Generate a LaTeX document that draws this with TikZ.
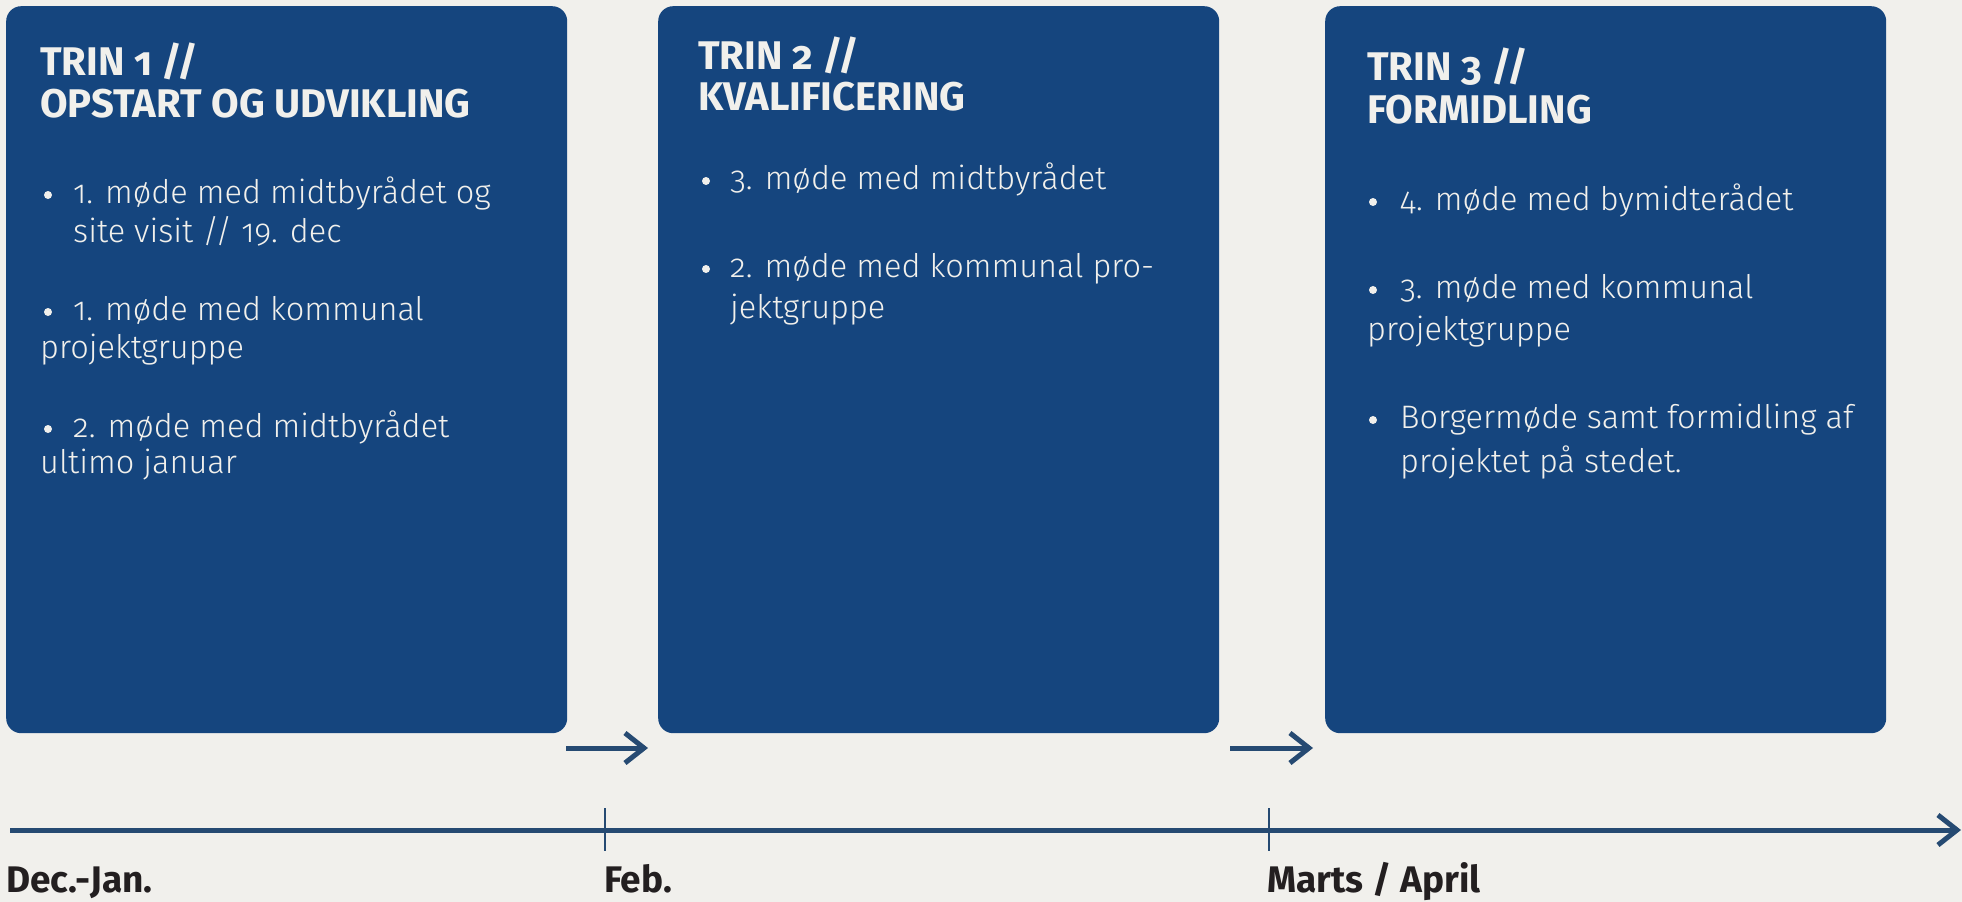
\documentclass[tikz,border=0pt]{standalone}
\usepackage{fontspec}
\usetikzlibrary{arrows.meta}
\setmainfont{Fira Sans}
\newfontfamily\bodyfont{Fira Sans Light}[Numbers=OldStyle]
\newfontfamily\headfont{Fira Sans}[Numbers=OldStyle]
\newfontfamily\monthfont{Fira Sans}
\definecolor{bg}{HTML}{F1F0EC}
\definecolor{boxblue}{HTML}{15457E}
\definecolor{lineblue}{HTML}{264A72}
\definecolor{labelblack}{HTML}{231F20}
\tikzset{
  box/.style={fill=boxblue, rounded corners=15pt, inner sep=0, minimum width=561pt, minimum height=727pt, anchor=north west},
  head/.style={anchor=base west, inner sep=0, text=bg, font=\headfont\bfseries\fontsize{40}{43}\selectfont},
  body/.style={anchor=base west, inner sep=0, text=bg, font=\bodyfont\fontsize{32.5}{38}\selectfont},
  dot/.style={circle, fill=bg, inner sep=0, minimum size=8pt},
  month/.style={anchor=base west, inner sep=0, text=labelblack, font=\monthfont\bfseries\fontsize{37}{40}\selectfont},
  flow/.style={draw=lineblue, line width=5pt, -{Straight Barb[length=19pt,width=30pt]}},
  tick/.style={draw=lineblue, line width=2pt}
}
\begin{document}
\begin{tikzpicture}[x=1pt,y=-1pt]
\fill[bg] (0,0) rectangle (1962,902);
\useasboundingbox (0,0) rectangle (1962,902);
% boxes
\node[box] (b1) at (6,6) {};
\node[box] (b2) at (658,6) {};
\node[box] (b3) at (1325,6) {};
% box 1
\node[head] (h1a) at (40,75) {TRIN 1 //};
\node[head] (h1b) at (40,117) {OPSTART OG UDVIKLING};
\node[dot] (p1d1) at (48,195) {};
\node[body] (p1a) at (73,203) {1. møde med midtbyrådet og};
\node[body] (p1b) at (73,242) {site visit // 19. dec};
\node[dot] (p1d2) at (48,312) {};
\node[body] (p1c) at (73,320) {1. møde med kommunal};
\node[body] (p1e) at (40,358) {projektgruppe};
\node[dot] (p1d3) at (48,429) {};
\node[body] (p1f) at (73,437) {2. møde med midtbyrådet};
\node[body] (p1g) at (40,473) {ultimo januar};
% box 2
\node[head] (h2a) at (698,69) {TRIN 2 //};
\node[head] (h2b) at (698,110) {KVALIFICERING};
\node[dot] (p2d1) at (706,181) {};
\node[body] (p2a) at (730,189) {3. møde med midtbyrådet};
\node[dot] (p2d2) at (706,269) {};
\node[body] (p2b) at (730,277) {2. møde med kommunal pro-};
\node[body] (p2c) at (730,318) {jektgruppe};
% box 3
\node[head] (h3a) at (1367,80) {TRIN 3 //};
\node[head] (h3b) at (1367,123) {FORMIDLING};
\node[dot] (p3d1) at (1373,202) {};
\node[body] (p3a) at (1400,210) {4. møde med bymidterådet};
\node[dot] (p3d2) at (1373,290) {};
\node[body] (p3b) at (1400,298) {3. møde med kommunal};
\node[body] (p3c) at (1367,340) {projektgruppe};
\node[dot] (p3d3) at (1373,420) {};
\node[body] (p3e) at (1400,428) {Borgermøde samt formidling af};
\node[body] (p3f) at (1400,472) {projektet på stedet.};
% step arrows
\coordinate (a1s) at (566,748);
\coordinate (a1e) at (648,748);
\coordinate (a2s) at (1230,748);
\coordinate (a2e) at (1313,748);
\draw[flow] (a1s) -- (a1e);
\draw[flow] (a2s) -- (a2e);
% timeline
\coordinate (t0) at (10,830);
\coordinate (t1) at (1961,830);
\draw[flow] (t0) -- (t1);
\coordinate (k1a) at (605,808);
\coordinate (k1b) at (605,851);
\coordinate (k2a) at (1269,808);
\coordinate (k2b) at (1269,851);
\draw[tick] (k1a) -- (k1b);
\draw[tick] (k2a) -- (k2b);
% months
\node[month] (m1) at (6,892) {Dec.-Jan.};
\node[month] (m2) at (604,892) {Feb.};
\node[month] (m3) at (1267,892) {Marts / April};
\end{tikzpicture}
\end{document}
